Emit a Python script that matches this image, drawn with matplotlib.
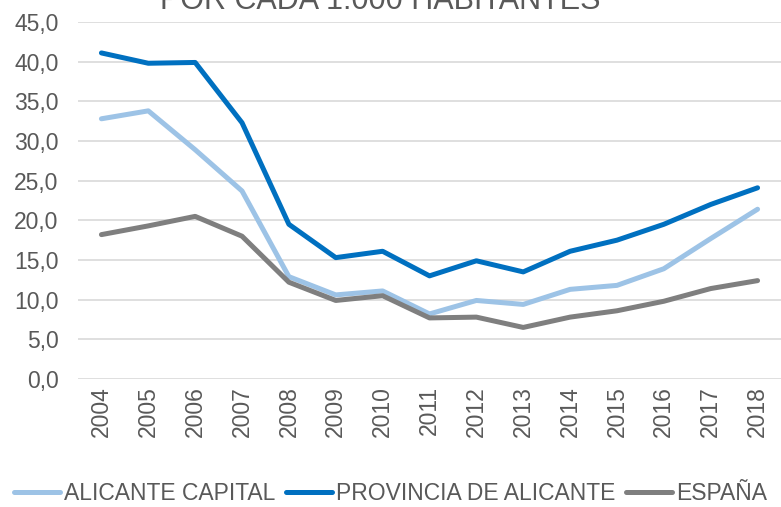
import matplotlib
matplotlib.use("Agg")
import matplotlib.pyplot as plt

years = ["2004", "2005", "2006", "2007", "2008", "2009", "2010", "2011",
         "2012", "2013", "2014", "2015", "2016", "2017", "2018"]
alicante_capital = [32.8, 33.8, 28.9, 23.7, 12.9, 10.6, 11.1, 8.2, 9.9, 9.4, 11.3, 11.8, 13.9, 17.7, 21.4]
provincia_alicante = [41.1, 39.8, 39.9, 32.3, 19.5, 15.3, 16.1, 13.0, 14.9, 13.5, 16.1, 17.5, 19.5, 22.0, 24.1]
espana = [18.2, 19.3, 20.5, 18.0, 12.2, 9.9, 10.5, 7.7, 7.8, 6.5, 7.8, 8.6, 9.8, 11.4, 12.4]
yticks = [0, 5, 10, 15, 20, 25, 30, 35, 40, 45]

plt.rcParams['font.family'] = ['Liberation Sans', 'DejaVu Sans']
txt = '#595959'
fs = 16.5

fig = plt.figure(figsize=(7.81, 5.07), dpi=100)
ax = fig.add_axes([78/781, 1 - 379/507, 1 - 78/781, (379 - 22)/507])

x = list(range(len(years)))
ax.plot(x, alicante_capital, color='#9DC3E6', lw=3.6, solid_capstyle='round', solid_joinstyle='round', label='ALICANTE CAPITAL')
ax.plot(x, provincia_alicante, color='#0070C0', lw=3.6, solid_capstyle='round', solid_joinstyle='round', label='PROVINCIA DE ALICANTE')
ax.plot(x, espana, color='#7F7F7F', lw=3.6, solid_capstyle='round', solid_joinstyle='round', label='ESPAÑA')

ax.set_xlim(-0.5, len(years) - 0.5)
ax.set_ylim(0, 45)
ax.set_yticks(yticks)
ax.set_yticklabels([f"{v:.1f}".replace('.', ',') for v in yticks], fontsize=fs, color=txt)
ax.set_xticks(x)
ax.set_xticklabels(years, rotation=90, fontsize=fs, color=txt)
ax.tick_params(axis='both', length=0)
ax.tick_params(axis='y', pad=14)
ax.tick_params(axis='x', pad=5)
ax.grid(axis='y', color='#D9D9D9', lw=1.2)
ax.set_axisbelow(True)
for s in ax.spines.values():
    s.set_visible(False)

fig.text(380/781, 1 - 9/507, "POR CADA 1.000 HABITANTES", ha='center', va='baseline',
         fontsize=22, color=txt)

leg = fig.legend(loc='center', bbox_to_anchor=(0.5, 1 - 494/507), ncol=3, frameon=False,
                 fontsize=fs, handlelength=2.0, handletextpad=0.15, columnspacing=0.5)
for t in leg.get_texts():
    t.set_color(txt)

fig.savefig("out.png", dpi=100)
